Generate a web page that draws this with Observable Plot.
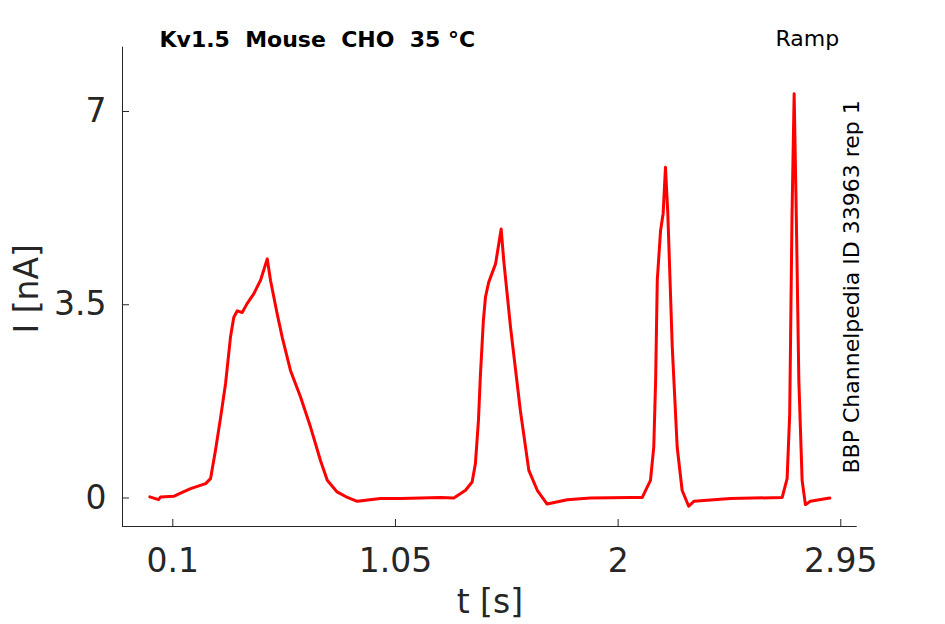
<!DOCTYPE html>
<html><head><meta charset="utf-8">
<script src="https://cdn.jsdelivr.net/npm/d3@7"></script>
<script src="https://cdn.jsdelivr.net/npm/@observablehq/plot@0.6"></script>
<style>
body{margin:0;background:#fff}
svg{display:block}
svg text{white-space:pre}
</style>
</head><body><div id="chart"></div>
<script>
const time = [0.002,0.039,0.048,0.104,0.133,0.176,0.240,0.261,0.282,0.304,0.325,0.346,0.360,0.375,0.396,0.417,0.446,0.474,0.503,0.517,0.545,0.567,0.602,0.645,0.688,0.730,0.759,0.801,0.845,0.887,0.986,1.071,
  1.242,1.299,1.349,1.377,1.391,1.404,1.412,1.425,1.434,1.448,1.477,1.501,1.512,1.541,1.583,1.619,1.655,1.697,1.783,1.882,2.053,
  2.103,2.138,2.152,2.160,2.167,2.181,2.192,2.202,2.212,2.231,2.252,2.273,2.301,2.323,2.479,2.700,2.721,2.732,2.742,2.751,2.760,2.771,2.785,2.799,2.820,2.903];
const current = [0.02,-0.03,0.02,0.03,0.09,0.17,0.26,0.35,0.86,1.46,2.07,2.91,3.27,3.39,3.36,3.52,3.70,3.94,4.33,3.94,3.34,2.91,2.31,1.83,1.28,0.68,0.32,0.11,0.01,-0.06,-0.01,-0.01,
  0.01,0.00,0.14,0.29,0.62,1.40,2.19,3.21,3.64,3.91,4.24,4.87,4.30,3.09,1.58,0.50,0.14,-0.11,-0.03,0.00,0.01,
  0.01,0.32,0.92,2.13,3.94,4.84,5.15,5.99,5.15,2.73,0.92,0.14,-0.15,-0.06,-0.01,0.01,0.35,1.52,5.15,7.32,5.15,2.13,0.32,-0.12,-0.06,0.00];
const xTicks = [0.1, 1.05, 2, 2.95];
const yTicks = [0, 3.5, 7];
const xDomain = [-0.1146, 3.02];
const yDomain = [-0.516, 8.164];
const titleText = "Kv1.5  Mouse  CHO  35 °C";
const protocolText = "Ramp";
const sideText = "BBP Channelpedia ID 33963 rep 1";
const xLabel = "t [s]";
const yLabel = "I [nA]";

const trace = time.map((t, i) => ({t, I: current[i]}));
const axisColor = "#262626";
const font = "DejaVu Sans";

const chart = Plot.plot({
  width: 945, height: 624,
  marginLeft: 122, marginRight: 88.3, marginTop: 46.7, marginBottom: 98,
  style: {fontFamily: font, color: axisColor, background: "#fff"},
  x: {domain: xDomain},
  y: {domain: yDomain},
  marks: [
    Plot.ruleX([xDomain[0]], {stroke: axisColor, strokeWidth: 1}),
    Plot.ruleY([yDomain[0]], {stroke: axisColor, strokeWidth: 1}),
    Plot.axisX(xTicks, {tickSize: -7, tickPadding: 29, fontSize: 33, tickFormat: d => String(d), stroke: axisColor, fill: axisColor, label: null}),
    Plot.axisY(yTicks, {tickSize: -7, tickPadding: 23, fontSize: 33, tickFormat: d => String(d), stroke: axisColor, fill: axisColor, label: null}),
    Plot.line(trace, {x: "t", y: "I", stroke: "#ff0000", strokeWidth: 3, strokeLinejoin: "round"}),
    Plot.text([titleText], {frameAnchor: "top-left", dx: 37, dy: 0, lineAnchor: "bottom", textAnchor: "start", fontSize: 22, fontWeight: "bold", fill: "#000"}),
    Plot.text([protocolText], {frameAnchor: "top-right", dx: -18, dy: -1, lineAnchor: "bottom", textAnchor: "end", fontSize: 22, fill: "#000"}),
    Plot.text([sideText], {frameAnchor: "right", dx: 2, rotate: -90, lineAnchor: "bottom", textAnchor: "middle", fontSize: 22, fill: "#000"}),
    Plot.text([xLabel], {frameAnchor: "bottom", dy: 86, lineAnchor: "bottom", textAnchor: "middle", fontSize: 33, fill: axisColor}),
    Plot.text([yLabel], {frameAnchor: "left", dx: -84.5, dy: 2, rotate: -90, lineAnchor: "bottom", textAnchor: "middle", fontSize: 33, fill: axisColor})
  ]
});
document.getElementById("chart").appendChild(chart);
</script>
</body></html>
